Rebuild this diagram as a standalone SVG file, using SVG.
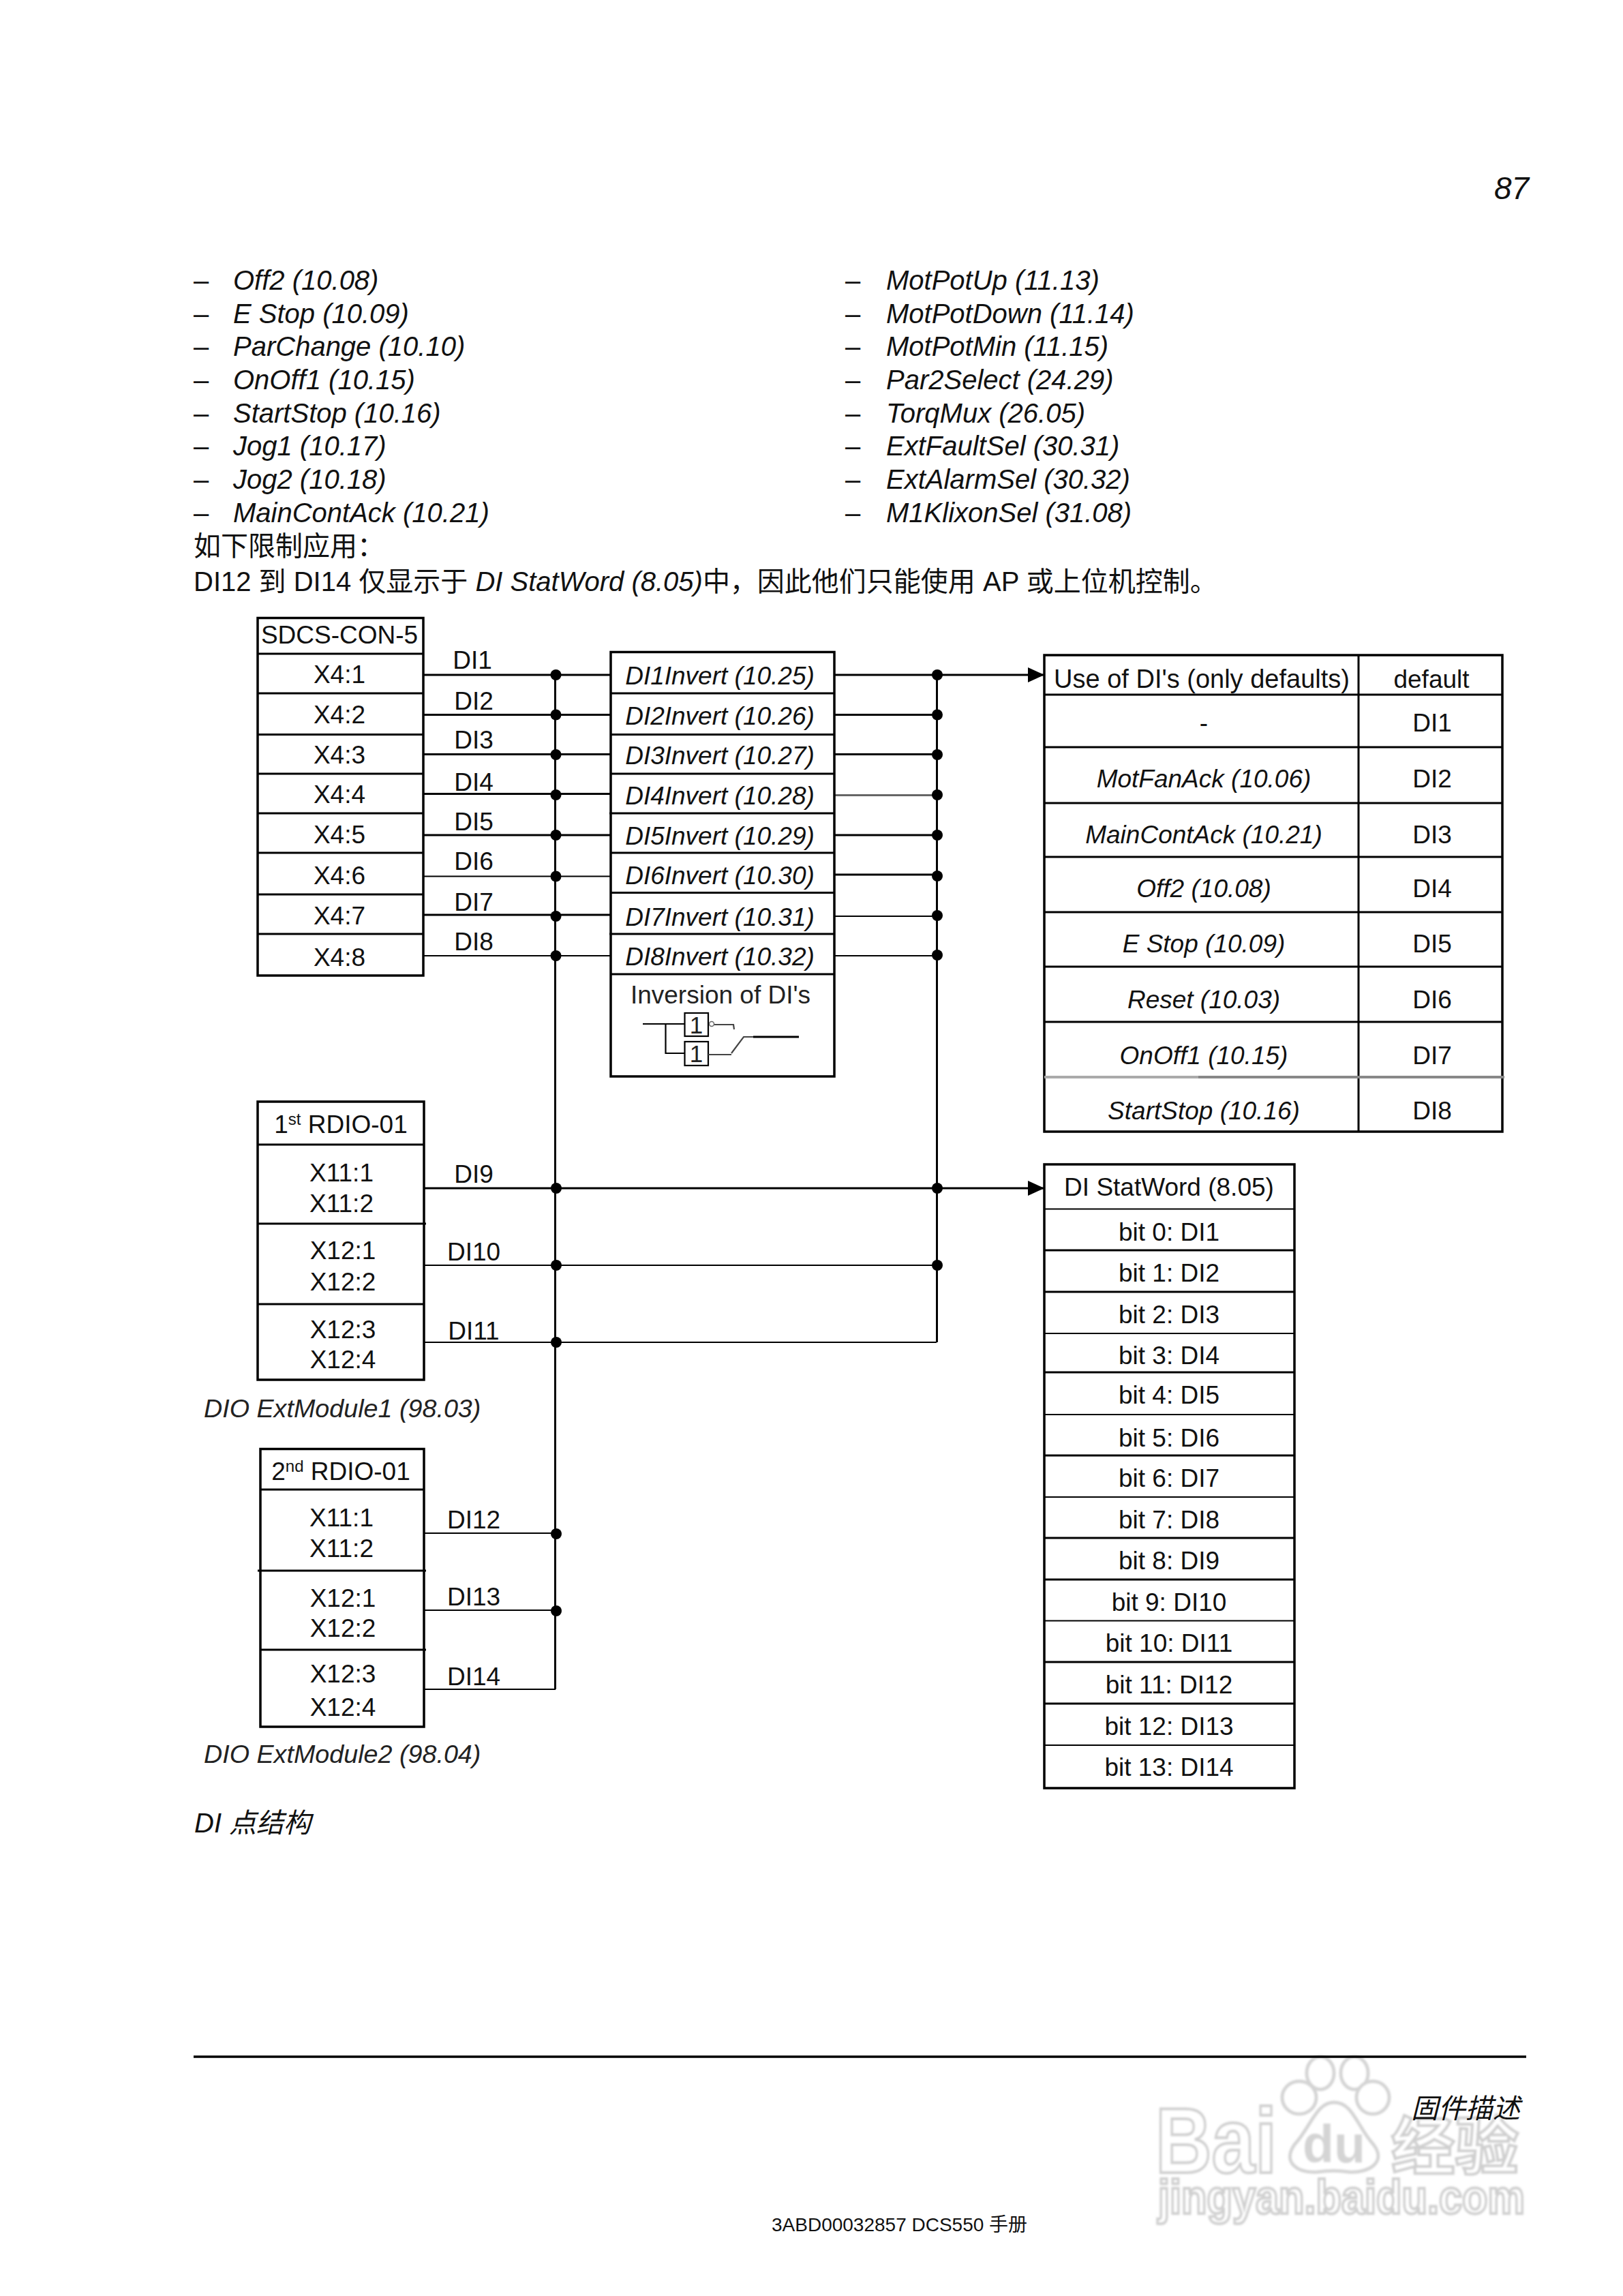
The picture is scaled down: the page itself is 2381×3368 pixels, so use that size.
<svg xmlns="http://www.w3.org/2000/svg" width="2381" height="3368" viewBox="0 0 2381 3368">
<style>
text{font-family:"Liberation Sans","Noto Sans CJK SC",sans-serif;fill:#111}
.p{font-size:40px}
.i{font-style:italic}
.d{font-size:37px;fill:#222}
.c{text-anchor:middle}
.b{fill:#fff;stroke:#000;stroke-width:3.5}
.l{stroke:#000;stroke-width:3;fill:none}
.t{stroke:#000;stroke-width:2.2;fill:none}
.g{stroke:#666;stroke-width:3;fill:none}
.dot{fill:#000}
.wm{fill:#fff;stroke:#cfcfcf;stroke-width:4;font-weight:bold}
.toe{fill:#fff;stroke:#d4d4d4;stroke-width:5}
</style>
<defs>
<marker id="arr" markerUnits="userSpaceOnUse" markerWidth="24" markerHeight="22" refX="24" refY="11" orient="auto"><path d="M0 0L24 11L0 22Z" fill="#000"/></marker>
<filter id="blur" x="-5%" y="-5%" width="110%" height="110%"><feGaussianBlur stdDeviation="1.6"/></filter>
</defs>
<rect width="2381" height="3368" fill="#fff"/>

<g id="watermark" filter="url(#blur)" transform="translate(-5 0)">
<text class="wm" x="1700" y="3187" font-size="135" textLength="178" lengthAdjust="spacingAndGlyphs">Bai</text>
<ellipse class="toe" cx="1942" cy="3041" rx="20" ry="24"/>
<ellipse class="toe" cx="1992" cy="3041" rx="20" ry="24"/>
<ellipse class="toe" cx="1911" cy="3077" rx="25" ry="24"/>
<ellipse class="toe" cx="2019" cy="3077" rx="24" ry="24"/>
<path class="toe" d="M1962 3084C1990 3084 1996 3120 2020 3146C2040 3172 2012 3188 1984 3186C1970 3184 1952 3184 1938 3186C1908 3188 1886 3172 1904 3146C1928 3120 1936 3084 1962 3084Z"/>
<text x="1962" y="3172" font-size="78" font-weight="bold" text-anchor="middle" textLength="92" lengthAdjust="spacingAndGlyphs" style="fill:#d4d4d4">du</text>
<text class="wm" x="2046" y="3182" font-size="92" textLength="187" lengthAdjust="spacingAndGlyphs">经验</text>
<text class="wm" x="1704" y="3247" font-size="70" textLength="538" lengthAdjust="spacingAndGlyphs">jingyan.baidu.com</text>
</g>

<g id="page-text">
<text class="i" x="2192" y="292" font-size="46">87</text>
<g class="p">
<text x="284" y="425">–</text><text class="i" x="342" y="425">Off2 (10.08)</text>
<text x="284" y="473.6">–</text><text class="i" x="342" y="473.6">E Stop (10.09)</text>
<text x="284" y="522">–</text><text class="i" x="342" y="522">ParChange (10.10)</text>
<text x="284" y="571">–</text><text class="i" x="342" y="571">OnOff1 (10.15)</text>
<text x="284" y="620">–</text><text class="i" x="342" y="620">StartStop (10.16)</text>
<text x="284" y="668">–</text><text class="i" x="342" y="668">Jog1 (10.17)</text>
<text x="284" y="717">–</text><text class="i" x="342" y="717">Jog2 (10.18)</text>
<text x="284" y="766">–</text><text class="i" x="342" y="766">MainContAck (10.21)</text>
<text x="1240" y="425">–</text><text class="i" x="1300" y="425">MotPotUp (11.13)</text>
<text x="1240" y="473.6">–</text><text class="i" x="1300" y="473.6">MotPotDown (11.14)</text>
<text x="1240" y="522">–</text><text class="i" x="1300" y="522">MotPotMin (11.15)</text>
<text x="1240" y="571">–</text><text class="i" x="1300" y="571">Par2Select (24.29)</text>
<text x="1240" y="620">–</text><text class="i" x="1300" y="620">TorqMux (26.05)</text>
<text x="1240" y="668">–</text><text class="i" x="1300" y="668">ExtFaultSel (30.31)</text>
<text x="1240" y="717">–</text><text class="i" x="1300" y="717">ExtAlarmSel (30.32)</text>
<text x="1240" y="766">–</text><text class="i" x="1300" y="766">M1KlixonSel (31.08)</text>
<text x="284" y="815">如下限制应用：</text>
<text x="284" y="867">DI12 到 DI14 仅显示于 <tspan class="i">DI StatWord (8.05)</tspan>中，因此他们只能使用 AP 或上位机控制。</text>
<text class="i" x="285" y="2688">DI 点结构</text>
<text class="i" x="2070" y="3107">固件描述</text>
</g>
<text x="1132" y="3273" font-size="28">3ABD00032857 DCS550 手册</text>
<path d="M284 3017H2239" stroke="#000" stroke-width="3.5"/>
</g>

<g id="connectors">
<path class="l" d="M814.5 990V2478M1374.5 990V1969"/>
<path class="l" d="M622 990H896M622 1048.5H896M622 1106.5H896M622 1164.5H896M622 1225H896M622 1342H896"/>
<path class="t" d="M622 1285.5H896M622 1402H896"/>
<path class="l" d="M1224 1048.5H1374M1224 1106.5H1374M1224 1225H1374M1224 1283H1374"/>
<path class="t" d="M1224 1344H1374M1224 1402H1374"/>
<path class="g" d="M1224 1166.5H1374"/>
<path class="l" d="M1224 990H1532" marker-end="url(#arr)"/>
<path class="l" d="M622 1743H1532" marker-end="url(#arr)"/>
<path class="t" d="M622 1856H1374M622 1969H1374M622 2249H815M622 2362H815M622 2478H815"/>
<g class="dot">
<circle cx="815.5" cy="990" r="8"/><circle cx="815.5" cy="1048.5" r="8"/><circle cx="815.5" cy="1107" r="8"/><circle cx="815.5" cy="1166" r="8"/><circle cx="815.5" cy="1225" r="8"/><circle cx="815.5" cy="1285.5" r="8"/><circle cx="815.5" cy="1344" r="8"/><circle cx="815.5" cy="1402" r="8"/>
<circle cx="1375" cy="990" r="8"/><circle cx="1375" cy="1048.5" r="8"/><circle cx="1375" cy="1107" r="8"/><circle cx="1375" cy="1166" r="8"/><circle cx="1375" cy="1225" r="8"/><circle cx="1375" cy="1285" r="8"/><circle cx="1375" cy="1343" r="8"/><circle cx="1375" cy="1401" r="8"/>
<circle cx="816" cy="1743" r="8"/><circle cx="816" cy="1856" r="8"/><circle cx="816" cy="1969" r="8"/><circle cx="816" cy="2250" r="8"/><circle cx="816" cy="2363" r="8"/>
<circle cx="1375" cy="1743" r="8"/><circle cx="1375" cy="1856" r="8"/>
</g>
<g class="d c">
<text x="693" y="981">DI1</text><text x="695" y="1041">DI2</text><text x="695" y="1098">DI3</text><text x="695" y="1160">DI4</text><text x="695" y="1218">DI5</text><text x="695" y="1276">DI6</text><text x="695" y="1336">DI7</text><text x="695" y="1394">DI8</text>
<text x="695" y="1735">DI9</text><text x="695" y="1849">DI10</text><text x="695" y="1965">DI11</text>
<text x="695" y="2242">DI12</text><text x="695" y="2355">DI13</text><text x="695" y="2472">DI14</text>
</g>
</g>

<g id="sdcs-con-5">
<rect class="b" x="378" y="906.5" width="243" height="524.5"/>
<path class="l" d="M378 959H621M378 1017H621M378 1077.5H621M378 1135H621M378 1193H621M378 1251H621M378 1312H621M378 1370H621"/>
<g class="d c">
<text x="498" y="943.5">SDCS-CON-5</text>
<text x="498" y="1002">X4:1</text><text x="498" y="1060.5">X4:2</text><text x="498" y="1120">X4:3</text><text x="498" y="1178">X4:4</text><text x="498" y="1237">X4:5</text><text x="498" y="1297">X4:6</text><text x="498" y="1356">X4:7</text><text x="498" y="1417">X4:8</text>
</g>
</g>

<g id="invert">
<rect class="b" x="896" y="956.5" width="328" height="622.5"/>
<path class="l" d="M896 1017H1224M896 1077.5H1224M896 1135H1224M894 1193H1224M896 1251H1224M896 1309.5H1224M894 1370H1224M896 1429H1224"/>
<g class="d c i">
<text x="1056" y="1004">DI1Invert (10.25)</text><text x="1056" y="1063">DI2Invert (10.26)</text><text x="1056" y="1121">DI3Invert (10.27)</text><text x="1056" y="1180">DI4Invert (10.28)</text><text x="1056" y="1239">DI5Invert (10.29)</text><text x="1056" y="1297">DI6Invert (10.30)</text><text x="1056" y="1358">DI7Invert (10.31)</text><text x="1056" y="1416">DI8Invert (10.32)</text>
</g>
<text class="d c" x="1057" y="1472">Inversion of DI's</text>
<g id="inversion-symbol">
<rect class="t" x="1004.5" y="1486" width="34.5" height="34"/>
<rect class="t" x="1004.5" y="1528" width="34.5" height="35"/>
<path class="t" d="M943 1502H1004M976.5 1502V1545H1004"/>
<circle cx="1044" cy="1502" r="3.5" fill="#fff" stroke="#666" stroke-width="1.5"/>
<path d="M1048 1503H1076L1077 1510M1039 1547H1073M1073 1545L1091 1521H1105" fill="none" stroke="#444" stroke-width="2.2"/>
<path class="l" d="M1105 1521H1172"/>
<text class="c" x="1021.5" y="1516" style="font-size:35px;fill:#222">1</text>
<text class="c" x="1021.5" y="1558" style="font-size:35px;fill:#222">1</text>
</g>
</g>

<g id="use-of-dis">
<rect class="b" x="1532" y="961" width="672" height="699"/>
<path class="l" d="M1993 961V1660M1532 1019H2204M1532 1096H2204M1532 1178H2204M1532 1257H2204M1532 1338H2204M1532 1418H2204M1532 1499H2204"/>
<path d="M1532 1580H1758" stroke="#aaa" stroke-width="4"/>
<path d="M1758 1580H2207" stroke="#888" stroke-width="4"/>
<g class="d c">
<text x="1763" y="1009" style="font-size:38px">Use of DI's (only defaults)</text><text x="2100" y="1009">default</text>
<text x="1766" y="1073">-</text><text x="2101" y="1073">DI1</text>
<text class="i" x="1766" y="1155">MotFanAck (10.06)</text><text x="2101" y="1155">DI2</text>
<text class="i" x="1766" y="1237">MainContAck (10.21)</text><text x="2101" y="1237">DI3</text>
<text class="i" x="1766" y="1316">Off2 (10.08)</text><text x="2101" y="1316">DI4</text>
<text class="i" x="1766" y="1397">E Stop (10.09)</text><text x="2101" y="1397">DI5</text>
<text class="i" x="1766" y="1479">Reset (10.03)</text><text x="2101" y="1479">DI6</text>
<text class="i" x="1766" y="1561">OnOff1 (10.15)</text><text x="2101" y="1561">DI7</text>
<text class="i" x="1766" y="1642">StartStop (10.16)</text><text x="2101" y="1642">DI8</text>
</g>
</g>

<g id="rdio-1">
<rect class="b" x="378" y="1616" width="244" height="408"/>
<path class="l" d="M378 1679H622M378 1795H625M378 1913H622"/>
<g class="d c">
<text x="500" y="1662">1<tspan style="font-size:24px" dy="-12">st</tspan><tspan dy="12"> RDIO-01</tspan></text>
<text x="501" y="1733">X11:1</text><text x="501" y="1778">X11:2</text><text x="503" y="1847">X12:1</text><text x="503" y="1893">X12:2</text><text x="503" y="1963">X12:3</text><text x="503" y="2007">X12:4</text>
</g>
<text class="d i" x="299" y="2079" style="font-size:37.7px">DIO ExtModule1 (98.03)</text>
</g>

<g id="rdio-2">
<rect class="b" x="382" y="2125.5" width="240" height="407.5"/>
<path class="l" d="M382 2185H622M378 2304H625M382 2420H625"/>
<g class="d c">
<text x="500" y="2171">2<tspan style="font-size:24px" dy="-12">nd</tspan><tspan dy="12"> RDIO-01</tspan></text>
<text x="501" y="2239">X11:1</text><text x="501" y="2284">X11:2</text><text x="503" y="2357">X12:1</text><text x="503" y="2401">X12:2</text><text x="503" y="2468">X12:3</text><text x="503" y="2517">X12:4</text>
</g>
<text class="d i" x="299" y="2586" style="font-size:37.7px">DIO ExtModule2 (98.04)</text>
</g>

<g id="di-statword">
<rect class="b" x="1532" y="1708" width="367" height="915"/>
<path class="t" d="M1532 1773.5H1899M1532 1956H1899M1532 2075H1899M1532 2196H1899M1532 2377.5H1899M1532 2560H1899"/>
<path class="l" d="M1532 1834H1899M1532 1895H1899M1532 2013H1899M1532 2135H1899M1532 2256H1899M1532 2317H1899M1532 2438H1899M1532 2499H1899"/>
<g class="d c">
<text x="1715" y="1754">DI StatWord (8.05)</text>
<text x="1715" y="1819.5">bit 0: DI1</text><text x="1715" y="1880">bit 1: DI2</text><text x="1715" y="1940.5">bit 2: DI3</text><text x="1715" y="2001">bit 3: DI4</text><text x="1715" y="2058.5">bit 4: DI5</text><text x="1715" y="2122">bit 5: DI6</text><text x="1715" y="2181">bit 6: DI7</text><text x="1715" y="2241.5">bit 7: DI8</text><text x="1715" y="2302">bit 8: DI9</text><text x="1715" y="2363">bit 9: DI10</text><text x="1715" y="2423">bit 10: DI11</text><text x="1715" y="2484">bit 11: DI12</text><text x="1715" y="2544.5">bit 12: DI13</text><text x="1715" y="2605">bit 13: DI14</text>
</g>
</g>
</svg>
